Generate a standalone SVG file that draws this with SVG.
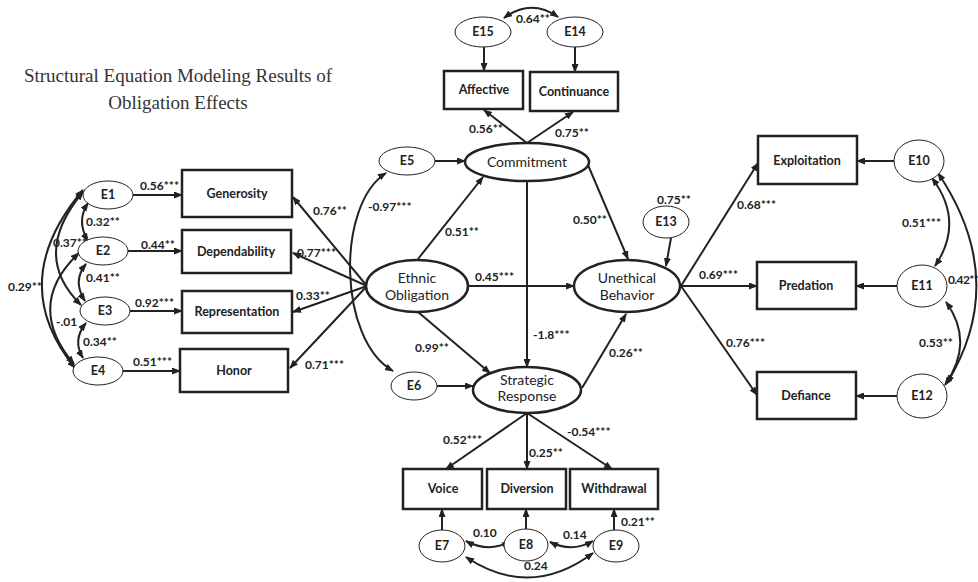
<svg xmlns="http://www.w3.org/2000/svg" width="978" height="582" viewBox="0 0 978 582">
  <style>
    .box { fill: #fff; stroke: #222; stroke-width: 2.5; }
    .lat { fill: #fff; stroke: #222; stroke-width: 2.5; }
    .err { fill: #fff; stroke: #222; stroke-width: 1; }
    .lbl { font-family: Lato, "Liberation Sans", sans-serif; font-weight: bold; font-size: 12px; fill: #222; }
    .nt { font-family: Lato, "Liberation Sans", sans-serif; font-weight: bold; font-size: 12.5px; fill: #222; text-anchor: middle; }
    .lt { font-family: Lato, "Liberation Sans", sans-serif; font-size: 14px; fill: #222; text-anchor: middle; }
    .title { font-family: "Liberation Serif", serif; font-size: 19px; fill: #333; text-anchor: middle; }
    .c { fill: none; stroke: #222; stroke-width: 2; marker-end: url(#arr); }
    .cv { fill: none; stroke: #222; stroke-width: 2; marker-start: url(#arr2); marker-end: url(#arr); }
  </style>
  <defs>
    <marker id="arr" markerUnits="userSpaceOnUse" markerWidth="9" markerHeight="7" refX="8" refY="3.5" orient="auto">
      <path d="M0,0 L9,3.5 L0,7 z" fill="#222"/>
    </marker>
    <marker id="arr2" markerUnits="userSpaceOnUse" markerWidth="9" markerHeight="7" refX="8" refY="3.5" orient="auto-start-reverse">
      <path d="M0,0 L9,3.5 L0,7 z" fill="#222"/>
    </marker>
  </defs>
  <rect width="978" height="582" fill="#fff"/>

  <text class="title" x="178" y="82">Structural Equation Modeling Results of</text>
  <text class="title" x="178" y="109">Obligation Effects</text>

  <!-- connectors -->
  <g id="connectors">
    <!-- error terms to indicators -->
    <line class="c" x1="133" y1="195" x2="182" y2="195"/>
    <line class="c" x1="128" y1="251" x2="182" y2="251"/>
    <line class="c" x1="130" y1="311" x2="182" y2="311"/>
    <line class="c" x1="123" y1="371" x2="180" y2="371"/>
    <!-- Ethnic Obligation to indicators -->
    <line class="c" x1="367" y1="286" x2="293" y2="197"/>
    <line class="c" x1="367" y1="286" x2="293" y2="253"/>
    <line class="c" x1="367" y1="286" x2="293" y2="312"/>
    <line class="c" x1="367" y1="286" x2="290" y2="368"/>
    <!-- left covariances -->
    <path class="cv" d="M88,241 Q76,221 88,203"/>
    <path class="cv" d="M85,301 Q72,281 86,264"/>
    <path class="cv" d="M83,358 Q72,340 86,323"/>
    <path class="cv" d="M81,305 Q30,255 83,192"/>
    <path class="cv" d="M74,364 Q24,305 79,253"/>
    <path class="cv" d="M75,368 Q5,282 83,190"/>
    <!-- E5/E6 covariance -->
    <path class="cv" d="M393,371 C338,340 336,205 386,173"/>
    <!-- structural paths -->
    <line class="c" x1="435" y1="161" x2="465" y2="161"/>
    <line class="c" x1="437" y1="386" x2="473" y2="386"/>
    <line class="c" x1="418" y1="259" x2="483" y2="177"/>
    <line class="c" x1="468" y1="286" x2="574" y2="286"/>
    <line class="c" x1="418" y1="312" x2="490" y2="373"/>
    <line class="c" x1="527" y1="181" x2="527" y2="367"/>
    <line class="c" x1="588" y1="165" x2="628" y2="259"/>
    <line class="c" x1="671" y1="238" x2="666" y2="266"/>
    <line class="c" x1="582" y1="388" x2="626" y2="314"/>
    <!-- Commitment indicators -->
    <line class="c" x1="527" y1="143" x2="484" y2="110"/>
    <line class="c" x1="527" y1="143" x2="573" y2="112"/>
    <line class="c" x1="484" y1="47" x2="484" y2="71"/>
    <line class="c" x1="575" y1="47" x2="575" y2="72"/>
    <path class="cv" d="M504,18 Q531,-2 558,17"/>
    <!-- Strategic Response indicators -->
    <line class="c" x1="527" y1="413" x2="446" y2="469"/>
    <line class="c" x1="527" y1="413" x2="527" y2="469"/>
    <line class="c" x1="527" y1="413" x2="612" y2="469"/>
    <line class="c" x1="442" y1="530" x2="442" y2="509"/>
    <line class="c" x1="526" y1="529" x2="526" y2="509"/>
    <line class="c" x1="614" y1="530" x2="614" y2="509"/>
    <path class="cv" d="M466,541 Q488,553 510,542"/>
    <path class="cv" d="M550,542 Q572,553 593,541"/>
    <path class="cv" d="M466,557 Q530,600 593,553"/>
    <!-- Unethical Behavior indicators -->
    <line class="c" x1="681" y1="286" x2="758" y2="163"/>
    <line class="c" x1="681" y1="286" x2="757" y2="286"/>
    <line class="c" x1="681" y1="286" x2="757" y2="395"/>
    <line class="c" x1="895" y1="161" x2="857" y2="161"/>
    <line class="c" x1="897" y1="286" x2="856" y2="286"/>
    <line class="c" x1="897" y1="396" x2="856" y2="396"/>
    <!-- right covariances -->
    <path class="cv" d="M935,266 Q965,222 932,178"/>
    <path class="cv" d="M945,385 Q975,342 946,302"/>
    <path class="cv" d="M947,383 Q1010,280 938,173"/>
  </g>

  <!-- path coefficients -->
  <g id="coefficients">
    <text class="lbl" x="140" y="190">0.56***</text>
    <text class="lbl" x="141" y="249">0.44**</text>
    <text class="lbl" x="135" y="307">0.92***</text>
    <text class="lbl" x="133" y="366">0.51***</text>
    <text class="lbl" x="86" y="226">0.32**</text>
    <text class="lbl" x="86" y="282">0.41**</text>
    <text class="lbl" x="83" y="346">0.34**</text>
    <text class="lbl" x="53" y="247">0.37**</text>
    <text class="lbl" x="56" y="326">-.01</text>
    <text class="lbl" x="8" y="291">0.29**</text>
    <text class="lbl" x="313" y="215">0.76**</text>
    <text class="lbl" x="297" y="257">0.77***</text>
    <text class="lbl" x="296" y="300">0.33**</text>
    <text class="lbl" x="305" y="369">0.71***</text>
    <text class="lbl" x="368" y="211">-0.97***</text>
    <text class="lbl" x="445" y="236">0.51**</text>
    <text class="lbl" x="475" y="281">0.45***</text>
    <text class="lbl" x="415" y="352">0.99**</text>
    <text class="lbl" x="533" y="339">-1.8***</text>
    <text class="lbl" x="573" y="224">0.50**</text>
    <text class="lbl" x="609" y="357">0.26**</text>
    <text class="lbl" x="657" y="204">0.75**</text>
    <text class="lbl" x="469" y="133">0.56**</text>
    <text class="lbl" x="555" y="137">0.75**</text>
    <text class="lbl" x="516" y="23">0.64**</text>
    <text class="lbl" x="443" y="444">0.52***</text>
    <text class="lbl" x="529" y="457">0.25**</text>
    <text class="lbl" x="567" y="436">-0.54***</text>
    <text class="lbl" x="621" y="526">0.21**</text>
    <text class="lbl" x="473" y="537">0.10</text>
    <text class="lbl" x="563" y="539">0.14</text>
    <text class="lbl" x="524" y="570">0.24</text>
    <text class="lbl" x="737" y="209">0.68***</text>
    <text class="lbl" x="699" y="279">0.69***</text>
    <text class="lbl" x="726" y="347">0.76***</text>
    <text class="lbl" x="902" y="227">0.51***</text>
    <text class="lbl" x="919" y="347">0.53**</text>
  </g>

  <!-- error terms -->
  <g id="E1"><ellipse class="err" cx="108" cy="195" rx="25" ry="14"/><text class="nt" x="108" y="199">E1</text></g>
  <g id="E2"><ellipse class="err" cx="103" cy="251" rx="25" ry="14"/><text class="nt" x="103" y="255">E2</text></g>
  <g id="E3"><ellipse class="err" cx="105" cy="311" rx="25" ry="14"/><text class="nt" x="105" y="315">E3</text></g>
  <g id="E4"><ellipse class="err" cx="98" cy="371" rx="25" ry="14"/><text class="nt" x="98" y="375">E4</text></g>
  <g id="E5"><ellipse class="err" cx="407" cy="161" rx="28" ry="14"/><text class="nt" x="407" y="165">E5</text></g>
  <g id="E6"><ellipse class="err" cx="414" cy="386" rx="23" ry="14"/><text class="nt" x="414" y="390">E6</text></g>
  <g id="E7"><ellipse class="err" cx="442" cy="546" rx="23" ry="16"/><text class="nt" x="442" y="550">E7</text></g>
  <g id="E8"><ellipse class="err" cx="526" cy="545" rx="22" ry="16"/><text class="nt" x="526" y="549">E8</text></g>
  <g id="E9"><ellipse class="err" cx="616" cy="546" rx="23" ry="16"/><text class="nt" x="616" y="550">E9</text></g>
  <g id="E10"><ellipse class="err" cx="919" cy="161" rx="25" ry="21"/><text class="nt" x="919" y="165">E10</text></g>
  <g id="E11"><ellipse class="err" cx="922" cy="286" rx="25" ry="21"/><text class="nt" x="922" y="290">E11</text></g>
  <g id="E12"><ellipse class="err" cx="922" cy="396" rx="25" ry="22"/><text class="nt" x="922" y="400">E12</text></g>
  <g id="E13"><ellipse class="err" cx="666" cy="222" rx="23" ry="16"/><text class="nt" x="666" y="226">E13</text></g>
  <g id="E14"><ellipse class="err" cx="575" cy="32" rx="28" ry="15"/><text class="nt" x="575" y="36">E14</text></g>
  <g id="E15"><ellipse class="err" cx="483" cy="32" rx="28" ry="15"/><text class="nt" x="483" y="36">E15</text></g>

  <!-- E10/E12 coefficient, set tight against the right edge -->
  <text class="lbl" x="948" y="284" font-size="10.5" letter-spacing="-0.6">0.42**</text>

  <!-- latent variables -->
  <g id="EthnicObligation"><ellipse class="lat" cx="417" cy="286" rx="51" ry="26"/><text class="lt" x="417" y="283">Ethnic</text><text class="lt" x="417" y="300">Obligation</text></g>
  <g id="Commitment"><ellipse class="lat" cx="527" cy="162" rx="62" ry="19"/><text class="lt" x="527" y="167">Commitment</text></g>
  <g id="StrategicResponse"><ellipse class="lat" cx="527" cy="390" rx="54" ry="23"/><text class="lt" x="527" y="385">Strategic</text><text class="lt" x="527" y="401">Response</text></g>
  <g id="UnethicalBehavior"><ellipse class="lat" cx="627" cy="286" rx="53" ry="26"/><text class="lt" x="627" y="283">Unethical</text><text class="lt" x="627" y="300">Behavior</text></g>

  <!-- observed indicators -->
  <g id="Generosity"><rect class="box" x="182" y="170" width="110" height="47"/><text class="nt" x="237" y="198">Generosity</text></g>
  <g id="Dependability"><rect class="box" x="182" y="230" width="109" height="43"/><text class="nt" x="236" y="256">Dependability</text></g>
  <g id="Representation"><rect class="box" x="182" y="291" width="110" height="42"/><text class="nt" x="237" y="316">Representation</text></g>
  <g id="Honor"><rect class="box" x="180" y="349" width="108" height="43"/><text class="nt" x="234" y="375">Honor</text></g>
  <g id="Affective"><rect class="box" x="444" y="71" width="79" height="38"/><text class="nt" x="484" y="94">Affective</text></g>
  <g id="Continuance"><rect class="box" x="530" y="72" width="88" height="39"/><text class="nt" x="574" y="96">Continuance</text></g>
  <g id="Voice"><rect class="box" x="403" y="469" width="79" height="40"/><text class="nt" x="443" y="493">Voice</text></g>
  <g id="Diversion"><rect class="box" x="487" y="469" width="79" height="40"/><text class="nt" x="527" y="493">Diversion</text></g>
  <g id="Withdrawal"><rect class="box" x="570" y="469" width="88" height="40"/><text class="nt" x="614" y="493">Withdrawal</text></g>
  <g id="Exploitation"><rect class="box" x="758" y="136" width="99" height="48"/><text class="nt" x="807" y="165">Exploitation</text></g>
  <g id="Predation"><rect class="box" x="757" y="262" width="99" height="47"/><text class="nt" x="806" y="290">Predation</text></g>
  <g id="Defiance"><rect class="box" x="757" y="372" width="99" height="47"/><text class="nt" x="806" y="400">Defiance</text></g>
</svg>
